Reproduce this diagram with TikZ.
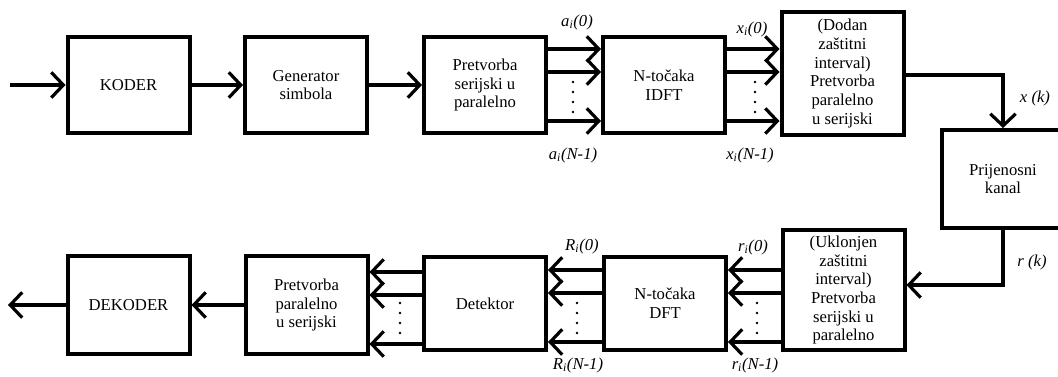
\documentclass[tikz,border=0pt]{standalone}
\usepackage{fontspec}
\setmainfont{Liberation Serif}
\usepackage{tikz}
\usetikzlibrary{arrows.meta, positioning}

\begin{document}
\begin{tikzpicture}[
  blk/.style={draw, line width=3pt, align=center, inner sep=0pt,
    minimum width=91.5pt, minimum height=72pt,
    font=\fontsize{12.5}{14}\selectfont},
  sig/.style={line width=2.4pt, -{Straight Barb[length=9pt,width=19pt]}},
  lab/.style={font=\fontsize{12.5}{14}\selectfont\itshape, inner sep=0pt}]
\begin{scope}[x=0.75pt,y=-0.75pt]
  \useasboundingbox (0,0) rectangle (1058,376);
  % upper row
  \node[blk] (koder) at (128.5,85) {KODER};
  \node[blk] (gen) at (306,85) {Generator\\simbola};
  \node[blk] (sp) at (485,85) {Pretvorba\\serijski u\\paralelno};
  \node[blk] (idft) at (664,85) {N-točaka\\IDFT};
  \node[blk, minimum height=92pt] (ps) at (842.5,73.5) {(Dodan\\zaštitni\\ interval)\\Pretvorba\\paralelno\\u serijski};
  \node[blk, minimum height=73.5pt] (kanal) at (1003,179) {Prijenosni\\kanal};
  % lower row
  \node[blk, minimum height=90pt] (sp2) at (843.5,290) {(Uklonjen\\zaštitni\\ interval)\\Pretvorba\\serijski u\\paralelno};
  \node[blk, minimum height=70pt] (dft) at (665,303.5) {N-točaka\\DFT};
  \node[blk, minimum height=70pt] (det) at (485,303.5) {Detektor};
  \node[blk, minimum height=73pt] (ps2) at (306.5,305) {Pretvorba\\paralelno\\u serijski};
  \node[blk, minimum height=73pt] (dekoder) at (128.5,305) {DEKODER};
  \coordinate (ulaz) at (10,85);
  \coordinate (izlaz) at (8,305);

  \draw[sig] (ulaz) -- (koder);
  \draw[sig] (koder) -- (gen);
  \draw[sig] (gen) -- (sp);
  \foreach \yy in {49,72,121} {
    \draw[sig] (sp.east |- 0,\yy) -- (idft.west |- 0,\yy);
    \draw[sig] (idft.east |- 0,\yy) -- (ps.west |- 0,\yy);
  }
  \draw[sig] (ps.east |- 0,75) -| (kanal.north);
  \draw[sig] (kanal.south) |- (sp2.east |- 0,285);
  \foreach \yy in {270,293,342} {
    \draw[sig] (sp2.west |- 0,\yy) -- (dft.east |- 0,\yy);
    \draw[sig] (dft.west |- 0,\yy) -- (det.east |- 0,\yy);
    \draw[sig] (det.west |- 0,\yy+2) -- (ps2.east |- 0,\yy+2);
  }
  \draw[sig] (ps2) -- (dekoder);
  \draw[sig] (dekoder) -- (izlaz);

  \foreach \dy in {0,10,20,30} {
    \fill (573,82+\dy) circle (1.1pt);
    \fill (755,82+\dy) circle (1.1pt);
    \fill (400,303+\dy) circle (1.1pt);
    \fill (577,303+\dy) circle (1.1pt);
    \fill (757,303+\dy) circle (1.1pt);
  }

  \node[lab] (a0) at (577,22) {a\textsubscript{i}(0)};
  \node[lab] (an) at (573,155) {a\textsubscript{i}(N-1)};
  \node[lab] (x0) at (752,29) {x\textsubscript{i}(0)};
  \node[lab] (xn) at (750,155) {x\textsubscript{i}(N-1)};
  \node[lab] (xk) at (1035,98) {x (k)};
  \node[lab] (rk) at (1032,262) {r (k)};
  \node[lab] (R0) at (582,246) {R\textsubscript{i}(0)};
  \node[lab] (Rn) at (578,365) {R\textsubscript{i}(N-1)};
  \node[lab] (r0) at (753,247) {r\textsubscript{i}(0)};
  \node[lab] (rn) at (755,365) {r\textsubscript{i}(N-1)};
\end{scope}
\end{tikzpicture}
\end{document}
